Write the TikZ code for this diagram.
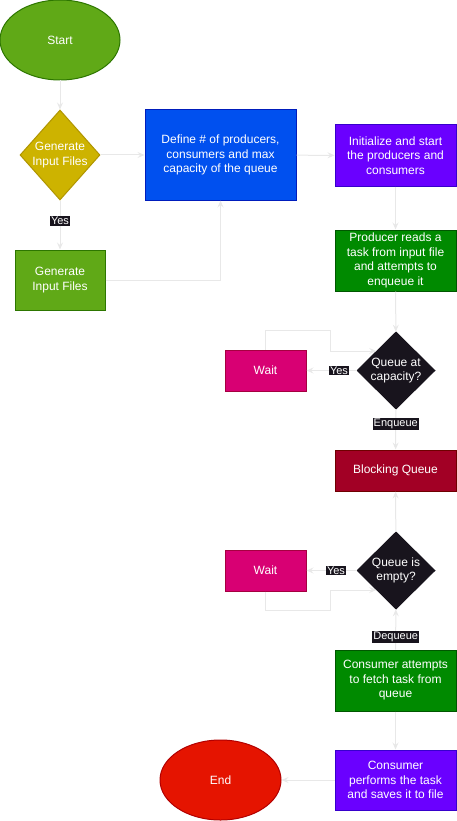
\documentclass[tikz,border=0pt]{standalone}
\usepackage{fontspec}
\setmainfont{Liberation Sans}
\usetikzlibrary{arrows.meta}
\usetikzlibrary{shapes.geometric}
\usetikzlibrary{calc}
\usepackage{xcolor}
\definecolor{cGreen}{HTML}{60A917}
\definecolor{cGreenD}{HTML}{2D7600}
\definecolor{cYellow}{HTML}{CDB300}
\definecolor{cYellowD}{HTML}{B09500}
\definecolor{cBlue}{HTML}{0050EF}
\definecolor{cBlueD}{HTML}{001DBC}
\definecolor{cViolet}{HTML}{6A00FF}
\definecolor{cVioletD}{HTML}{3700CC}
\definecolor{cForest}{HTML}{008A00}
\definecolor{cForestD}{HTML}{005700}
\definecolor{cInk}{HTML}{18141D}
\definecolor{cPink}{HTML}{D80073}
\definecolor{cPinkD}{HTML}{A50040}
\definecolor{cCrimson}{HTML}{A20025}
\definecolor{cCrimsonD}{HTML}{6F0000}
\definecolor{cRed}{HTML}{E51400}
\definecolor{cRedD}{HTML}{B20000}
\definecolor{cLine}{HTML}{E8E8E8}

\begin{document}
\begin{tikzpicture}[x=1pt,y=-1pt,
  font=\fontsize{12}{14.5}\selectfont,
  box/.style 2 args={rectangle, fill=#1, draw=#2, line width=1pt, text=white, align=center, inner sep=0pt},
  terminal/.style 2 args={ellipse, fill=#1, draw=#2, line width=1pt, text=white, inner sep=0pt},
  decision/.style 2 args={diamond, fill=#1, draw=#2, line width=1pt, inner sep=0pt},
  txt/.style={text=white, align=center, inner sep=0pt},
  tag/.style={fill=cInk, text=white, font=\fontsize{11}{13}\selectfont, inner sep=1pt},
  link/.style={draw=cLine, line width=1pt, -{Stealth[length=7pt,width=6pt,inset=2.5pt]}}]
\useasboundingbox (0,0) rectangle (456,821);

% left column
\node[terminal={cGreen}{cGreenD}, minimum width=120pt, minimum height=80pt] (start) at (60,40) {Start};
\node[decision={cYellow}{cYellowD}, minimum width=80pt, minimum height=90pt, label={[txt]center:Generate\\Input Files}] (ask) at (60,155) {};
\node[box={cGreen}{cGreenD}, minimum width=90pt, minimum height=60pt] (gen) at (60,280) {Generate\\Input Files};
\node[box={cBlue}{cBlueD}, minimum width=151pt, minimum height=90pt] (define) at (220.5,155) {Define \# of producers,\\consumers and max\\capacity of the queue};

% right column
\node[box={cViolet}{cVioletD}, minimum width=121pt, minimum height=61pt] (init) at (395.5,155.5) {Initialize and start\\the producers and\\consumers};
\node[box={cForest}{cForestD}, minimum width=121pt, minimum height=61pt] (produce) at (395.5,260.5) {Producer reads a\\task from input file\\and attempts to\\enqueue it};
\node[decision={cInk}{cInk}, minimum width=78pt, minimum height=77pt, label={[txt]center:Queue at\\capacity?}] (full) at (396,370.5) {};
\node[box={cPink}{cPinkD}, minimum width=81pt, minimum height=41pt] (waitA) at (265.5,370.5) {Wait};
\node[box={cCrimson}{cCrimsonD}, minimum width=121pt, minimum height=41pt] (queue) at (395.5,470.5) {Blocking Queue};
\node[decision={cInk}{cInk}, minimum width=78pt, minimum height=77pt, label={[txt]center:Queue is\\empty?}] (empty) at (396,570.5) {};
\node[box={cPink}{cPinkD}, minimum width=81pt, minimum height=41pt] (waitB) at (265.5,570.5) {Wait};
\node[box={cForest}{cForestD}, minimum width=121pt, minimum height=61pt] (consume) at (395.5,680.5) {Consumer attempts\\to fetch task from\\queue};
\node[box={cViolet}{cVioletD}, minimum width=121pt, minimum height=60pt] (save) at (395.5,780) {Consumer\\performs the task\\and saves it to file};
\node[terminal={cRed}{cRedD}, minimum width=121pt, minimum height=80pt] (end) at (220.5,780) {End};

% connectors
\draw[link] (start) -- (ask);
\draw[link] (ask) -- (define);
\draw[link] (ask) -- node[tag, pos=.42] (yesA) {Yes} (gen);
\draw[link] (gen.east) -| (define.south);
\draw[link] (define) -- (init);
\draw[link] (init) -- (produce);
\draw[link] (produce) -- (full);
\draw[link] (full) -- node[tag, pos=.35] (yesB) {Yes} (waitA);
\draw[link] (waitA.north) -- ++(0,-19) -| ($(full.north west)+(-46,0)$) -- (full.north west);
\draw[link] (full) -- node[tag, pos=.37] (enq) {Enqueue} (queue);
\draw[link] (empty) -- (queue);
\draw[link] (empty) -- node[tag, pos=.41] (yesC) {Yes} (waitB);
\draw[link] (waitB.south) -- ++(0,19) -| ($(empty.south west)+(-46,0)$) -- (empty.south west);
\draw[link] (consume) -- node[tag, pos=.32] (deq) {Dequeue} (empty);
\draw[link] (consume) -- (save);
\draw[link] (save) -- (end);
\end{tikzpicture}
\end{document}
